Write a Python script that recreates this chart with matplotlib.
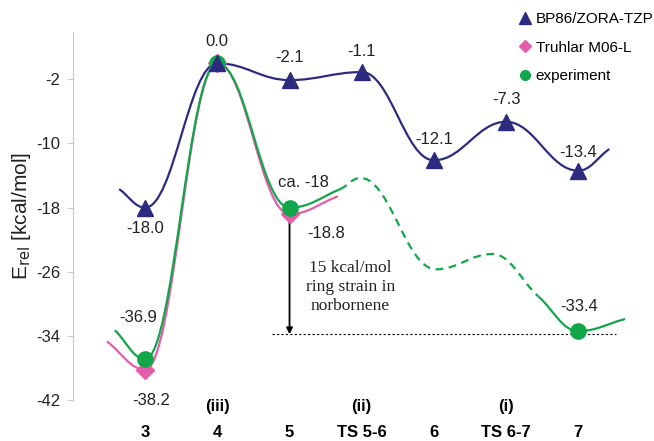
import numpy as np
import matplotlib
matplotlib.use("Agg")
import matplotlib.pyplot as plt
from matplotlib.path import Path
from matplotlib.patches import PathPatch
from matplotlib.lines import Line2D

plt.rcParams['font.family'] = ['Liberation Sans', 'DejaVu Sans']
plt.rcParams['axes.unicode_minus'] = False

# categories and values
categories = ['3', '4', '5', 'TS 5-6', '6', 'TS 6-7', '7']
roman = {1: '(iii)', 3: '(ii)', 5: '(i)'}

bp86 = [-18.0, 0.0, -2.1, -1.1, -12.1, -7.3, -13.4]
m06l = [-38.2, 0.0, -18.8]
expt_idx = [0, 1, 2, 6]
expt = [-36.9, 0.0, -18.0, -33.4]
expt_text = ['-36.9', '', 'ca. -18', '-33.4']

# loose curve ends and the hypothetical (dashed) part of the experiment curve
bp86_ends = [(-0.36, -15.7), (6.43, -10.7)]
m06l_ends = [(-0.53, -34.7), (2.67, -16.6)]
expt_ends = [(-0.42, -33.3), (6.65, -31.9)]
expt_dash = [(2.70, -15.7), (2.98, -14.3), (4.03, -25.7), (4.81, -23.8), (5.45, -29.1)]

strain_level = -33.8
strain_span = (1.76, 6.53)

c_blue = '#2c2b80'
c_pink = '#e45cab'
c_green = '#12a64a'


def segments(xs, ys, k=0.4):
    xs = np.asarray(xs, float)
    ys = np.asarray(ys, float)
    n = len(xs)
    m = np.zeros(n)
    for i in range(n):
        if i == 0:
            m[i] = (ys[1] - ys[0]) / (xs[1] - xs[0])
        elif i == n - 1:
            m[i] = (ys[-1] - ys[-2]) / (xs[-1] - xs[-2])
        elif (ys[i] - ys[i - 1]) * (ys[i + 1] - ys[i]) <= 0:
            m[i] = 0.0
        else:
            m[i] = (ys[i + 1] - ys[i - 1]) / (xs[i + 1] - xs[i - 1])
    segs = []
    for i in range(n - 1):
        h = (xs[i + 1] - xs[i]) * k
        segs.append([(xs[i], ys[i]), (xs[i] + h, ys[i] + h * m[i]),
                     (xs[i + 1] - h, ys[i + 1] - h * m[i + 1]), (xs[i + 1], ys[i + 1])])
    return segs


def draw(ax, segs, color, ls='-', lw=1.6):
    verts = [segs[0][0]]
    codes = [Path.MOVETO]
    for s in segs:
        verts += s[1:]
        codes += [Path.CURVE4] * 3
    ax.add_patch(PathPatch(Path(verts, codes), fill=False, edgecolor=color,
                           lw=lw, linestyle=ls, zorder=2, capstyle='butt'))


fig = plt.figure(figsize=(6.54, 4.41), dpi=100)
ax = fig.add_axes([73 / 654, 41 / 441, 1 - 73 / 654, 368 / 441])
ax.set_xlim(-1.0, 7.05)
ax.set_ylim(-42, 3.9)

x = np.arange(len(categories))

# curves
bx = [bp86_ends[0][0]] + list(x) + [bp86_ends[1][0]]
by = [bp86_ends[0][1]] + bp86 + [bp86_ends[1][1]]
draw(ax, segments(bx, by), c_blue)

px = [m06l_ends[0][0]] + list(x[:3]) + [m06l_ends[1][0]]
py = [m06l_ends[0][1]] + m06l + [m06l_ends[1][1]]
draw(ax, segments(px, py), c_pink)

gx = [expt_ends[0][0]] + expt_idx[:3] + [p[0] for p in expt_dash] + [6, expt_ends[1][0]]
gy = [expt_ends[0][1]] + expt[:3] + [p[1] for p in expt_dash] + [expt[3], expt_ends[1][1]]
gsegs = segments(gx, gy)
draw(ax, gsegs[:4], c_green)
draw(ax, gsegs[4:8], c_green, ls=(0, (3.5, 2.5)))
draw(ax, gsegs[8:], c_green)

# markers
ax.plot(x[:3], m06l, 'D', color=c_pink, ms=9, zorder=4, ls='none')
ax.plot(expt_idx, expt, 'o', color=c_green, ms=11, zorder=5, ls='none')
ax.plot(x, bp86, '^', color=c_blue, ms=11, zorder=6, ls='none')

# value labels
lab_kw = dict(textcoords='offset points', ha='center', va='center', fontsize=12, color='#222222')
bp_off = [(0, -15), (0, 16), (0, 16), (0, 15), (0, 15), (0, 16), (0, 13)]
for i, v in enumerate(bp86):
    ax.annotate('%.1f' % v, (x[i], v), xytext=bp_off[i], **lab_kw)
ax.annotate('%.1f' % m06l[0], (0, m06l[0]), xytext=(4, -22), **lab_kw)
ax.annotate('%.1f' % m06l[2], (2, m06l[2]), xytext=(26, -14), **lab_kw)
ex_off = [(-5, 30), None, (10, 18), (1, 18)]
for i, v in enumerate(expt):
    if expt_text[i]:
        ax.annotate(expt_text[i], (expt_idx[i], v), xytext=ex_off[i], **lab_kw)

# ring strain annotation
ax.hlines(strain_level, *strain_span, colors='black', linestyles=(0, (2, 2)), lw=0.8, zorder=1)
ax.annotate('', xy=(2, strain_level), xytext=(2, expt[2] - 0.5),
            arrowprops=dict(arrowstyle='<|-|>', color='black', lw=1.3,
                            mutation_scale=9, shrinkA=0, shrinkB=0), zorder=3)
ax.text(2.84, -27.9, '15 kcal/mol\nring strain in\nnorbornene', ha='center', va='center',
        fontsize=12.5, family='Liberation Serif', linespacing=1.25, color='#222222')

# axes styling
for s in ['top', 'right', 'bottom']:
    ax.spines[s].set_visible(False)
ax.spines['left'].set_color('#c8c8c8')
ax.set_yticks([-42, -34, -26, -18, -10, -2])
ax.tick_params(axis='y', direction='out', length=4, color='#c8c8c8', labelsize=12,
               labelcolor='#222222', pad=5)
ax.set_xticks(x)
ax.set_xticklabels(categories, fontsize=12, fontweight='bold')
ax.tick_params(axis='x', length=0, pad=18)
for i, r in roman.items():
    ax.annotate(r, (i, 0), xycoords=('data', 'axes fraction'), xytext=(0, -5),
                textcoords='offset points', ha='center', va='center',
                fontsize=12, fontweight='bold')

fig.text(22 / 654, 1 - 216 / 441, r'E$_{\mathrm{rel}}$ [kcal/mol]', rotation=90,
         ha='center', va='center', fontsize=15, color='#222222')

handles = [Line2D([], [], marker='^', color=c_blue, ls='none', ms=8),
           Line2D([], [], marker='D', color=c_pink, ls='none', ms=6),
           Line2D([], [], marker='o', color=c_green, ls='none', ms=7)]
fig.legend(handles, ['BP86/ZORA-TZP', 'Truhlar M06-L', 'experiment'],
           loc='upper left', bbox_to_anchor=(519 / 654, 1 - 12 / 441), frameon=False,
           fontsize=11, handlelength=0.8, handletextpad=0.3, labelspacing=0.95,
           borderpad=0, borderaxespad=0)

fig.savefig('out.png', dpi=100)
